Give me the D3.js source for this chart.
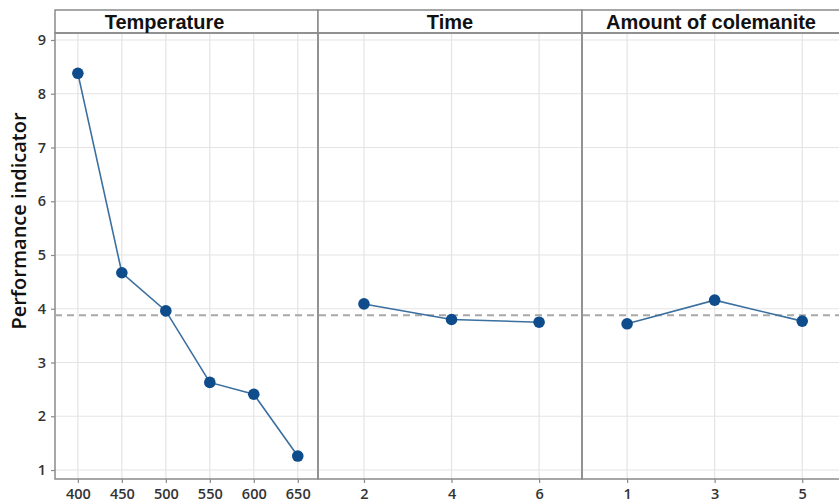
<!DOCTYPE html>
<html>
<head>
<meta charset="utf-8">
<script src="https://cdn.jsdelivr.net/npm/d3@7"></script>
<style>
  html, body { margin: 0; padding: 0; background: #fff; }
  svg { display: block; }
</style>
</head>
<body>
<svg id="chart" width="839" height="504"></svg>
<script>
// Main-effects plot: mean performance indicator per factor level
const factorNames = ["Temperature", "Time", "Amount of colemanite"];
const temperatureLevels = [400, 450, 500, 550, 600, 650];
const temperatureMeans  = [8.38, 4.67, 3.96, 2.63, 2.41, 1.26];
const timeLevels = [2, 4, 6];
const timeMeans  = [4.09, 3.80, 3.75];
const colemaniteLevels = [1, 3, 5];
const colemaniteMeans  = [3.72, 4.16, 3.77];
const grandMean = 3.88;
const yTicks = [1, 2, 3, 4, 5, 6, 7, 8, 9];
const yTitle = "Performance indicator";

const panels = [
  { name: factorNames[0], levels: temperatureLevels, means: temperatureMeans, domain: [374, 673], x0: 55,  x1: 318, labelShift: -22 },
  { name: factorNames[1], levels: timeLevels,        means: timeMeans,        domain: [0.95, 6.98], x0: 318, x1: 582, labelShift: 0 },
  { name: factorNames[2], levels: colemaniteLevels,  means: colemaniteMeans,  domain: [-0.03, 6.0], x0: 582, x1: 846, labelShift: -3 }
];

const svg = d3.select("#chart");
const stripTop = 10, plotTop = 33, plotBottom = 479;
const frameColor = "#8a8a8a", gridColor = "#e4e4e4";
const tickFont = "'Open Sans', 'Noto Sans', sans-serif";

const y = d3.scaleLinear().domain([0.833, 9.13]).range([plotBottom, plotTop]);

panels.forEach(p => {
  const x = d3.scaleLinear().domain(p.domain).range([p.x0, p.x1]);
  const g = svg.append("g");

  // horizontal grid
  g.selectAll("line.hgrid").data(yTicks).join("line")
    .attr("x1", p.x0).attr("x2", p.x1)
    .attr("y1", d => y(d)).attr("y2", d => y(d))
    .attr("stroke", gridColor).attr("stroke-width", 1.2);

  // vertical grid
  g.selectAll("line.vgrid").data(p.levels).join("line")
    .attr("x1", d => x(d)).attr("x2", d => x(d))
    .attr("y1", plotTop).attr("y2", plotBottom)
    .attr("stroke", gridColor).attr("stroke-width", 1.2);

  // x axis with ticks and labels
  const ax = d3.axisBottom(x).tickValues(p.levels).tickSize(4).tickPadding(6).tickFormat(d3.format("d"));
  const axG = g.append("g").attr("transform", `translate(0,${plotBottom})`).call(ax);
  axG.select(".domain").remove();
  axG.selectAll(".tick line").attr("stroke", frameColor).attr("stroke-width", 1.2);
  axG.selectAll(".tick text")
    .attr("font-family", tickFont).attr("font-weight", 600)
    .attr("font-size", 14.5).attr("fill", "#333");

  // panel frame and strip
  g.append("rect")
    .attr("x", p.x0).attr("y", stripTop)
    .attr("width", p.x1 - p.x0).attr("height", plotTop - stripTop)
    .attr("fill", "#fff").attr("stroke", frameColor).attr("stroke-width", 1.5);
  g.append("rect")
    .attr("x", p.x0).attr("y", plotTop)
    .attr("width", p.x1 - p.x0).attr("height", plotBottom - plotTop)
    .attr("fill", "none").attr("stroke", frameColor).attr("stroke-width", 1.5);
  g.append("text")
    .attr("x", (p.x0 + p.x1) / 2 + p.labelShift).attr("y", 29)
    .attr("text-anchor", "middle")
    .attr("font-family", "'Liberation Sans', Arial, sans-serif")
    .attr("font-weight", "bold").attr("font-size", 20).attr("fill", "#111")
    .text(p.name);

  p.x = x;
});

// grand-mean reference line across all panels
svg.append("line")
  .attr("x1", 55).attr("x2", 839)
  .attr("y1", y(grandMean)).attr("y2", y(grandMean))
  .attr("stroke", "#a8a8a8").attr("stroke-width", 2)
  .attr("stroke-dasharray", "7,5");

// factor mean lines and points
panels.forEach(p => {
  const pts = p.levels.map((l, i) => [l, p.means[i]]);
  const line = d3.line().x(d => p.x(d[0])).y(d => y(d[1]));
  svg.append("path").datum(pts)
    .attr("d", line).attr("fill", "none")
    .attr("stroke", "#3a6f9f").attr("stroke-width", 1.6);
  svg.append("g").selectAll("circle").data(pts).join("circle")
    .attr("cx", d => p.x(d[0])).attr("cy", d => y(d[1]))
    .attr("r", 5.8).attr("fill", "#0f4c8c");
});

// y axis
const ay = d3.axisLeft(y).tickValues(yTicks).tickSize(4).tickPadding(5).tickFormat(d3.format("d"));
const ayG = svg.append("g").attr("transform", "translate(55,0)").call(ay);
ayG.select(".domain").remove();
ayG.selectAll(".tick line").attr("stroke", frameColor).attr("stroke-width", 1.2);
ayG.selectAll(".tick text")
  .attr("font-family", tickFont).attr("font-weight", 600)
  .attr("font-size", 14.5).attr("fill", "#333");

svg.append("text")
  .attr("transform", "translate(26,221) rotate(-90)")
  .attr("text-anchor", "middle")
  .attr("font-family", tickFont).attr("font-weight", 600)
  .attr("font-size", 20).attr("fill", "#111")
  .text(yTitle);
</script>
</body>
</html>
